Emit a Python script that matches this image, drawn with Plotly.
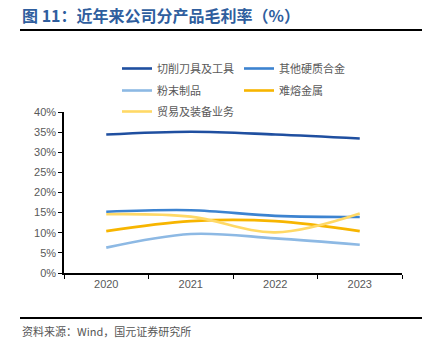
import plotly.graph_objects as go

years = ["2020", "2021", "2022", "2023"]
names = ["切削刀具及工具", "其他硬质合金", "粉末制品", "难熔金属", "贸易及装备业务"]
cutting = [34.4, 35.1, 34.4, 33.4]
other_carbide = [15.2, 15.6, 14.2, 13.9]
powder = [6.3, 9.7, 8.6, 7.0]
refractory = [10.4, 12.9, 12.9, 10.4]
trade = [14.6, 14.0, 10.1, 14.8]
series = [cutting, other_carbide, powder, refractory, trade]
colors = ["#1F4FA0", "#3C83D0", "#8DB9E4", "#F7B500", "#FFD966"]
legend_ids = ["legend", "legend", "legend2", "legend2", "legend3"]
yticks = [0, 5, 10, 15, 20, 25, 30, 35, 40]

W, H = 432, 340
L, R, T, B = 64, 30, 112, 67
pw, ph = W - L - R, H - T - B

def px_x(x):
    return (x - L) / pw

def px_y(y):
    return 1 - (y - T) / ph

fig = go.Figure()
for n, v, c, lg in zip(names, series, colors, legend_ids):
    fig.add_trace(go.Scatter(x=years, y=v, name=n, mode="lines", legend=lg,
                             line=dict(color=c, width=2.6, shape="spline", smoothing=1.0)))

def leg(ytop):
    return dict(orientation="h", x=px_x(117), xanchor="left", y=px_y(ytop), yanchor="top",
                entrywidth=77, entrywidthmode="pixels",
                font=dict(family="Noto Sans CJK SC", size=11, color="#595959"),
                bgcolor="rgba(0,0,0,0)", traceorder="normal")

fig.update_layout(
    width=W, height=H,
    margin=dict(l=L, r=R, t=T, b=B),
    paper_bgcolor="white", plot_bgcolor="white",
    font=dict(family="Liberation Sans, Arial, Noto Sans CJK SC", color="#595959"),
    showlegend=True,
    legend=leg(54), legend2=leg(76), legend3=leg(97),
    xaxis=dict(type="category", showgrid=False, showline=True, linecolor="black", linewidth=1.5,
               ticks="outside", tickson="boundaries", ticklen=4, tickcolor="black",
               tickfont=dict(size=11, color="#595959"), range=[-0.5, 3.5]),
    yaxis=dict(range=[0, 40], tickvals=yticks, ticktext=[f"{t}%" for t in yticks],
               showgrid=False, zeroline=False, showline=True, linecolor="black", linewidth=1.5,
               ticks="outside", ticklen=4, tickcolor="black",
               tickfont=dict(size=11, color="#595959")),
)

fig.add_annotation(x=px_x(20), y=px_y(15), xref="paper", yref="paper", xanchor="left", yanchor="middle",
                   text="<b>图 11：近年来公司分产品毛利率（%）</b>", showarrow=False,
                   font=dict(family="Noto Sans CJK SC", size=16, color="#2F5E9E"))
fig.add_annotation(x=px_x(20), y=px_y(331), xref="paper", yref="paper", xanchor="left", yanchor="middle",
                   text="资料来源：Wind，国元证券研究所", showarrow=False,
                   font=dict(family="Noto Sans CJK SC", size=11, color="#555555"))
fig.add_shape(type="line", xref="paper", yref="paper", x0=px_x(20), x1=px_x(422), y0=px_y(30), y1=px_y(30),
              line=dict(color="black", width=2))
fig.add_shape(type="line", xref="paper", yref="paper", x0=px_x(20), x1=px_x(422), y0=px_y(318), y1=px_y(318),
              line=dict(color="black", width=2))

fig.write_html("out.html")
